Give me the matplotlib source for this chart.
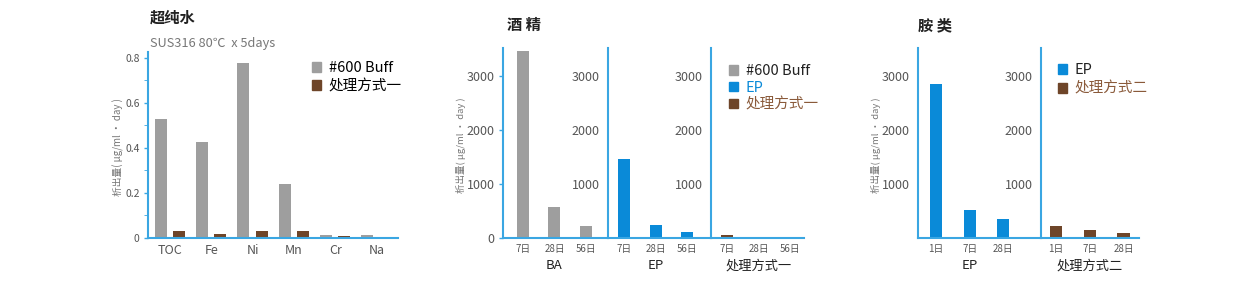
import numpy as np
import matplotlib
matplotlib.use('Agg')
import matplotlib.pyplot as plt
from matplotlib.patches import Patch

plt.rcParams['font.family'] = ['Noto Sans CJK SC', 'DejaVu Sans']

# ---- data ----
water_cats = ['TOC', 'Fe', 'Ni', 'Mn', 'Cr', 'Na']
water_buff = [0.527, 0.424, 0.776, 0.238, 0.013, 0.013]
water_t1 = [0.030, 0.016, 0.030, 0.030, 0.009, 0.003]

alc_days = ['7日', '28日', '56日']
alc_ba = [3450, 578, 227]
alc_ep = [1463, 234, 105]
alc_t1 = [62, 0, 0]

amine_days = ['1日', '7日', '28日']
amine_ep = [2854, 517, 345]
amine_t2 = [216, 148, 87]

GRAY = '#9e9e9e'
BROWN = '#6e4529'
BLUE = '#0a8ad8'
SPINE = '#3aa6e2'
TXT = '#555555'
YLABEL = '析出量( μg/ml · day )'

W, H = 1256, 289
fig = plt.figure(figsize=(W / 100, H / 100), dpi=100)


def px_axes(x0, x1, ytop, ybot):
    return fig.add_axes([x0 / W, 1 - ybot / H, (x1 - x0) / W, (ybot - ytop) / H])


def style(ax, ticks=True):
    for s in ['top', 'right']:
        ax.spines[s].set_visible(False)
    for s in ['left', 'bottom']:
        ax.spines[s].set_color(SPINE)
        ax.spines[s].set_linewidth(1.5)
    ax.tick_params(axis='y', colors=SPINE, labelcolor=TXT, labelsize=9,
                   length=3 if ticks else 0, width=1, pad=3 if ticks else 6)
    ax.tick_params(axis='x', length=0, labelcolor=TXT, labelsize=7, pad=4)


def group_label(ax, x, text):
    ax.annotate(text, xy=(x, 0), xycoords=('data', 'axes fraction'),
                xytext=(0, -20), textcoords='offset points',
                ha='center', va='center', fontsize=9.5, color='#222222')


# ---- panel 1: ultra pure water ----
ax1 = px_axes(148, 398, 52, 238)
x = np.arange(len(water_cats))
ax1.bar(x - 0.22, water_buff, 0.29, color=GRAY)
ax1.bar(x + 0.22, water_t1, 0.29, color=BROWN)
ax1.set_xlim(-0.53, 5.52)
ax1.set_ylim(0, 0.825)
style(ax1)
ax1.set_yticks([0, 0.2, 0.4, 0.6, 0.8])
ax1.set_yticklabels(['0', '0.2', '0.4', '0.6', '0.8'])
ax1.set_yticks([0.1, 0.3, 0.5, 0.7], minor=True)
ax1.tick_params(axis='y', which='both', labelsize=7.5, pad=3, length=3, colors=SPINE, labelcolor=TXT)
ax1.set_xticks(x)
ax1.set_xticklabels(water_cats, fontsize=9)
ax1.legend([Patch(color=GRAY), Patch(color=BROWN)], ['#600 Buff', '处理方式一'],
           loc='upper left', bbox_to_anchor=(306 / W, 1 - 55 / H), bbox_transform=fig.transFigure,
           frameon=False, fontsize=10.5, handlelength=0.65, handleheight=0.65,
           handletextpad=0.5, labelspacing=0.3, borderaxespad=0)
fig.text(150 / W, 1 - 18 / H, '超纯水', fontsize=11, fontweight='bold', color='#222222', va='center')
fig.text(150 / W, 1 - 44 / H, 'SUS316 80℃  x 5days', fontsize=9.2, color='#777777', va='center')
fig.text(118 / W, 1 - 147 / H, YLABEL, rotation=90, fontsize=7, color='#777777', ha='center', va='center')

# ---- panel 2: alcohol ----
YMAX = 3510
alc_sets = [(503, 608, -0.635, 2.70, alc_ba, GRAY, 'BA', True),
            (608, 711, -0.508, 2.76, alc_ep, BLUE, 'EP', False),
            (711, 804, -0.508, 2.44, alc_t1, BROWN, '处理方式一', False)]
for x0, x1, lo, hi, vals, col, name, first in alc_sets:
    ax = px_axes(x0, x1, 48, 238)
    xd = np.arange(len(alc_days))
    ax.bar(xd, vals, 0.38, color=col)
    ax.set_xlim(lo, hi)
    ax.set_ylim(0, YMAX)
    style(ax, ticks=first)
    ax.set_yticks([0, 1000, 2000, 3000] if first else [1000, 2000, 3000])
    ax.set_xticks(xd)
    ax.set_xticklabels(alc_days)
    group_label(ax, 1, name)
    if name == '处理方式一':
        ax.legend([Patch(color=GRAY), Patch(color=BLUE), Patch(color=BROWN)],
                  ['#600 Buff', 'EP', '处理方式一'],
                  loc='upper left', bbox_to_anchor=(723 / W, 1 - 58 / H),
                  bbox_transform=fig.transFigure, frameon=False, fontsize=10.5,
                  handlelength=0.65, handleheight=0.65, handletextpad=0.5,
                  labelspacing=0.2, borderaxespad=0,
                  labelcolor=['#222222', BLUE, '#8a5a3a'])
fig.text(507 / W, 1 - 25 / H, '酒 精', fontsize=11, fontweight='bold', color='#222222', va='center')
fig.text(461 / W, 1 - 145 / H, YLABEL, rotation=90, fontsize=6.8, color='#777777', ha='center', va='center')

# ---- panel 3: amines ----
amine_sets = [(918, 1041, -0.534, 3.12, amine_ep, BLUE, 'EP', True),
              (1041, 1139, -0.445, 2.46, amine_t2, BROWN, '处理方式二', False)]
for x0, x1, lo, hi, vals, col, name, first in amine_sets:
    ax = px_axes(x0, x1, 48, 238)
    xd = np.arange(len(amine_days))
    ax.bar(xd, vals, 0.36, color=col)
    ax.set_xlim(lo, hi)
    ax.set_ylim(0, YMAX)
    style(ax, ticks=False)
    ax.set_yticks([1000, 2000, 3000])
    ax.set_xticks(xd)
    ax.set_xticklabels(amine_days)
    group_label(ax, 1, name)
    if not first:
        ax.legend([Patch(color=BLUE), Patch(color=BROWN)], ['EP', '处理方式二'],
                  loc='upper left', bbox_to_anchor=(1052 / W, 1 - 57 / H),
                  bbox_transform=fig.transFigure, frameon=False, fontsize=10.5,
                  handlelength=0.65, handleheight=0.65, handletextpad=0.5,
                  labelspacing=0.35, borderaxespad=0,
                  labelcolor=['#222222', '#8a5a3a'])
fig.text(918 / W, 1 - 25 / H, '胺 类', fontsize=11, fontweight='bold', color='#222222', va='center')
fig.text(876 / W, 1 - 145 / H, YLABEL, rotation=90, fontsize=6.8, color='#777777', ha='center', va='center')

fig.savefig('out.png', dpi=100, facecolor='white')
